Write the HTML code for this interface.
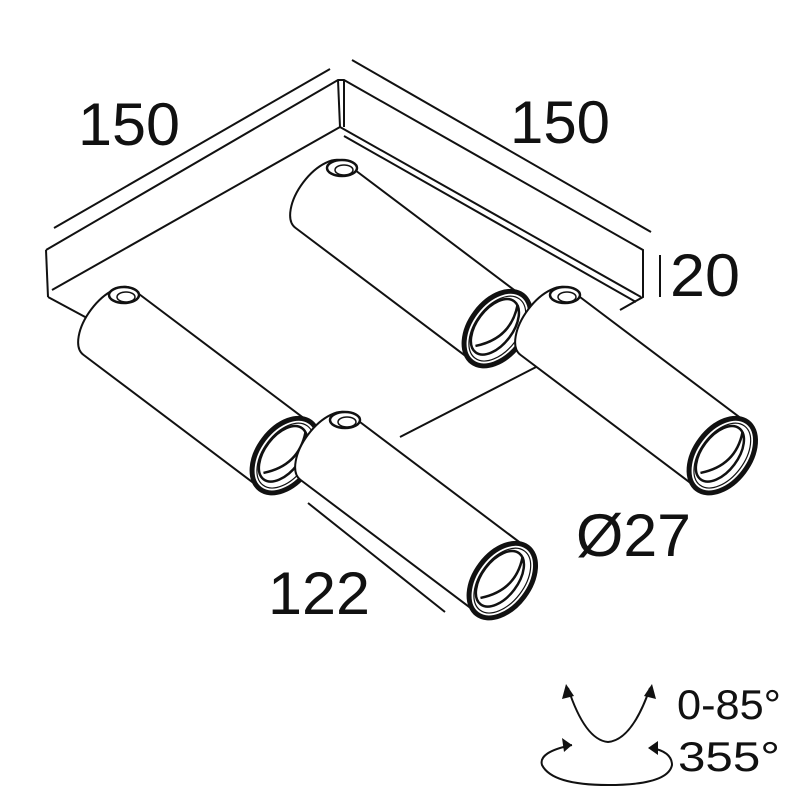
<!DOCTYPE html>
<html><head><style>html,body{margin:0;padding:0;background:#fff}svg{display:block}text{font-family:"Liberation Sans",sans-serif;fill:#111}</style></head>
<body>
<svg width="800" height="800" viewBox="0 0 800 800" xmlns="http://www.w3.org/2000/svg">
<defs>
<g id="tube">
  <path d="M0,-41 L222,-41 L222,41 L0,41 A21,41 0 0 1 0,-41 Z" fill="#fff" stroke="#111" stroke-width="2"/>
  <ellipse cx="222" cy="0" rx="27" ry="42" fill="#fff" stroke="#111" stroke-width="5"/>
  <ellipse cx="222" cy="0" rx="22" ry="37" fill="none" stroke="#111" stroke-width="1.2"/>
  <ellipse cx="219" cy="0" rx="18" ry="32" fill="#fff" stroke="#111" stroke-width="2.5"/>
  <path d="M224,-31 Q239,0 215,27" fill="none" stroke="#111" stroke-width="2.5"/>
</g>
<g id="cap">
  <ellipse cx="0" cy="0" rx="15" ry="8" fill="#fff" stroke="#111" stroke-width="2.5"/>
  <ellipse cx="2" cy="2" rx="9" ry="5" fill="none" stroke="#111" stroke-width="1.5"/>
</g>
</defs>
<g fill="none" stroke="#111" stroke-width="2">
  <line x1="54" y1="228" x2="330" y2="69"/>
  <line x1="352" y1="60" x2="651" y2="232"/>
  <line x1="660" y1="255" x2="660" y2="297"/>
  <line x1="308" y1="503" x2="445" y2="612"/>
  <path d="M46,250 L338,80 L344,80 L643,250 L643,297 L620,310"/>
  <line x1="46" y1="250" x2="48" y2="297"/>
  <line x1="338" y1="80" x2="340" y2="127"/>
  <line x1="344" y1="80" x2="344" y2="127"/>
  <line x1="52" y1="290" x2="340" y2="127"/>
  <line x1="340" y1="127" x2="641" y2="297"/>
  <line x1="344" y1="136" x2="636" y2="302"/>
  <line x1="48" y1="297" x2="100" y2="325"/>
  <line x1="400" y1="437" x2="540" y2="365"/>
</g>
<g transform="translate(320,195) rotate(37)"><use href="#tube"/></g>
<use href="#cap" x="342" y="168"/>
<g transform="translate(545,322) rotate(37)"><use href="#tube"/></g>
<use href="#cap" x="565" y="295"/>
<g transform="translate(108,322) rotate(37)"><use href="#tube"/></g>
<use href="#cap" x="124" y="295"/>
<g transform="translate(325,447) rotate(37)"><use href="#tube"/></g>
<use href="#cap" x="345" y="420"/>
<text x="78" y="145" font-size="60" textLength="102" lengthAdjust="spacingAndGlyphs">150</text>
<text x="510" y="143" font-size="60" textLength="100" lengthAdjust="spacingAndGlyphs">150</text>
<text x="670" y="296" font-size="60" textLength="70" lengthAdjust="spacingAndGlyphs">20</text>
<text x="576" y="556" font-size="60" textLength="115" lengthAdjust="spacingAndGlyphs">Ø27</text>
<text x="268" y="614" font-size="60" textLength="102" lengthAdjust="spacingAndGlyphs">122</text>
<text x="677" y="719" font-size="42" textLength="104" lengthAdjust="spacingAndGlyphs">0-85°</text>
<text x="678" y="771" font-size="42" textLength="102" lengthAdjust="spacingAndGlyphs">355°</text>
<g fill="none" stroke="#111" stroke-width="2">
  <path d="M568,688 Q585,740 608,742 Q632,740 650,688"/>
  <path d="M572,745 Q538,752 542,765 Q552,785 608,785 Q668,785 672,765 Q672,752 652,748"/>
</g>
<g fill="#111">
  <polygon points="566,684 562,699 574,696"/>
  <polygon points="652,684 644,696 656,699"/>
  <polygon points="572,745 562,738 564,752"/>
  <polygon points="648,748 658,741 658,755"/>
</g>
</svg>
</body></html>
